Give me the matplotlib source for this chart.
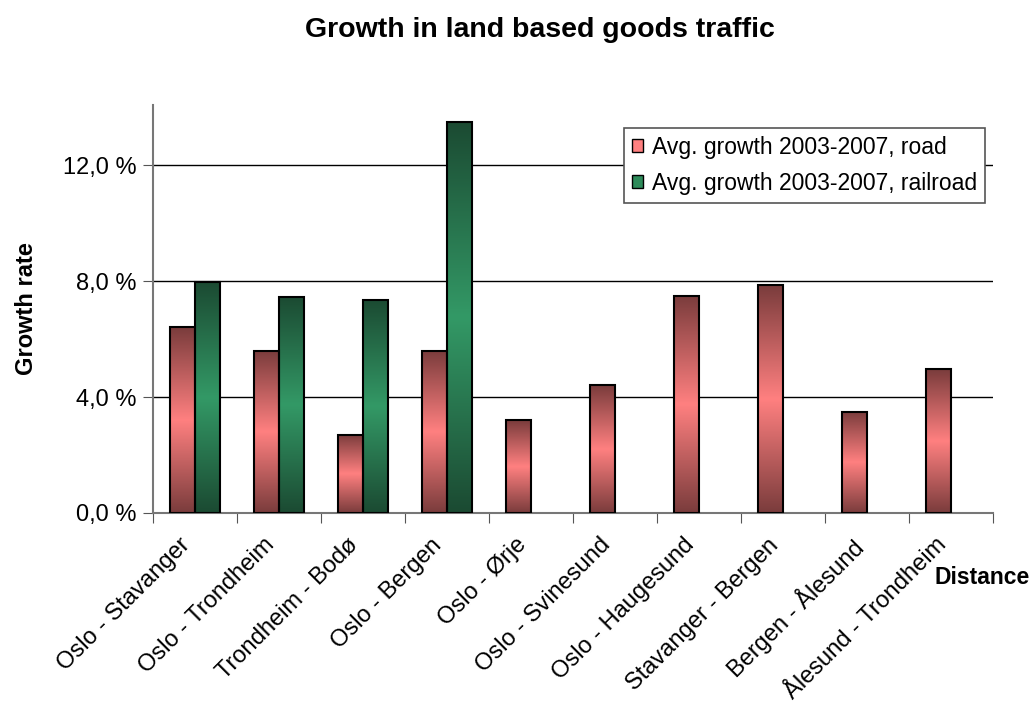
import matplotlib
matplotlib.use("Agg")
import matplotlib.pyplot as plt
import matplotlib.transforms as mtrans
import numpy as np
from matplotlib.colors import LinearSegmentedColormap
from matplotlib.ticker import FuncFormatter, FixedLocator, NullFormatter
from matplotlib.patches import Patch

plt.rcParams['font.family'] = ['Liberation Sans', 'DejaVu Sans']

# --- data ---
routes = ['Oslo - Stavanger', 'Oslo - Trondheim', 'Trondheim - Bodø', 'Oslo - Bergen',
          'Oslo - Ørje', 'Oslo - Svinesund', 'Oslo - Haugesund', 'Stavanger - Bergen',
          'Bergen - Ålesund', 'Ålesund - Trondheim']
road = [6.4, 5.6, 2.7, 5.6, 3.2, 4.4, 7.5, 7.85, 3.5, 4.95]
rail = [7.95, 7.45, 7.35, 13.5, None, None, None, None, None, None]
yticks = [0, 4, 8, 12]

road_cmap = LinearSegmentedColormap.from_list('road', ['#7a3c3c', '#ff8080', '#7a3c3c'])
rail_cmap = LinearSegmentedColormap.from_list('rail', ['#1b4a32', '#339966', '#1b4a32'])

fig = plt.figure(figsize=(10.34, 7.02), dpi=100)
ax = fig.add_axes([153/1034, 1-513/702, 840/1034, 408/702])

x = np.arange(len(routes))
w = 0.3
grad = np.linspace(0, 1, 256).reshape(-1, 1)


def grad_bars(xs, vals, cmap, label):
    bars = ax.bar(xs, vals, width=w, facecolor='none', edgecolor='black', linewidth=1.5,
                  zorder=4, label=label)
    for b in bars:
        x0, y0 = b.get_x(), b.get_y()
        ax.imshow(grad, cmap=cmap, aspect='auto', zorder=3,
                  extent=(x0, x0 + b.get_width(), y0, y0 + b.get_height()))
    return bars


grad_bars(x - w/2, road, road_cmap, 'Avg. growth 2003-2007, road')
rx = [xi for xi, v in zip(x, rail) if v is not None]
rv = [v for v in rail if v is not None]
grad_bars(np.array(rx) + w/2, rv, rail_cmap, 'Avg. growth 2003-2007, railroad')

ax.set_xlim(-0.5, len(routes) - 0.5)
ax.set_ylim(0, 14.07)
ax.set_yticks(yticks)
ax.yaxis.set_major_formatter(FuncFormatter(lambda v, p: f'{v:.1f} %'.replace('.', ',')))
ax.yaxis.grid(True, color='black', linewidth=1)
ax.set_axisbelow(True)

# ticks between categories, labels at category centres
ax.xaxis.set_major_locator(FixedLocator(np.arange(-0.5, len(routes), 1)))
ax.xaxis.set_major_formatter(NullFormatter())
shift = mtrans.ScaledTranslation(-16/100, -21/100, fig.dpi_scale_trans)
for xi, name in zip(x, routes):
    ax.text(xi, 0, name, transform=ax.get_xaxis_transform() + shift, rotation=45,
            ha='right', va='top', rotation_mode='anchor', fontsize=17)
ax.tick_params(axis='x', which='major', length=7, direction='out', color='#555555')
ax.tick_params(axis='y', length=7, direction='out', color='#555555', labelsize=17, pad=5)

for s in ['top', 'right']:
    ax.spines[s].set_visible(False)
for s in ['left', 'bottom']:
    ax.spines[s].set_color('#777777')
    ax.spines[s].set_linewidth(1.5)

ax.set_ylabel('Growth rate', fontsize=17, fontweight='bold', labelpad=18)
fig.text(935/1034, 1-578/702, 'Distance', fontsize=16.5, fontweight='bold', va='center', ha='left')
fig.text(540/1034, 1-30/702, 'Growth in land based goods traffic', fontsize=20.5,
         fontweight='bold', ha='center', va='center')

handles, labels = ax.get_legend_handles_labels()
proxies = [Patch(facecolor='#ff8080', edgecolor='black'), Patch(facecolor='#2e8b5a', edgecolor='black')]
leg = ax.legend(proxies, labels, loc='upper right', bbox_to_anchor=(985/1034, 1-128/702),
                bbox_transform=fig.transFigure, fontsize=16.5, frameon=True, fancybox=False,
                framealpha=1, edgecolor='#555555', handlelength=0.48, handleheight=0.48,
                handletextpad=0.4, borderpad=0.35, labelspacing=0.55, borderaxespad=0)
leg.get_frame().set_linewidth(1.2)
leg.set_zorder(10)

fig.savefig('out.png', dpi=100)
